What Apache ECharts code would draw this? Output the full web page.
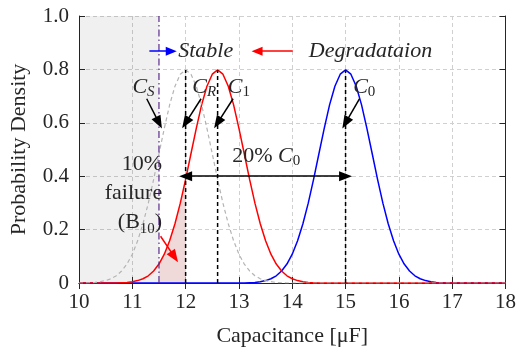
<!DOCTYPE html>
<html>
<head>
<meta charset="utf-8">
<script src="https://cdn.jsdelivr.net/npm/echarts@6/dist/echarts.min.js"></script>
<style>
html,body{margin:0;padding:0;background:#fff;}
#chart{width:519px;height:352px;}
</style>
</head>
<body>
<div id="chart"></div>
<script>
// ---- data ----
const xTicks = [10, 11, 12, 13, 14, 15, 16, 17, 18];
const yTicks = [0, 0.2, 0.4, 0.6, 0.8, 1.0];

// gray dashed curve (centred at C_R)
const grayCurve = [[10.0,0.000],[10.1,0.000],[10.2,0.001],[10.3,0.002],[10.4,0.005],[10.5,0.009],[10.6,0.016],[10.7,0.027],[10.8,0.045],[10.9,0.071],[11.0,0.108],[11.1,0.158],[11.2,0.222],[11.3,0.299],[11.4,0.388],[11.5,0.484],[11.6,0.579],[11.7,0.667],[11.8,0.737],[11.9,0.782],[12.0,0.798],[12.1,0.782],[12.2,0.737],[12.3,0.667],[12.4,0.579],[12.5,0.484],[12.6,0.388],[12.7,0.299],[12.8,0.222],[12.9,0.158],[13.0,0.108],[13.1,0.071],[13.2,0.045],[13.3,0.027],[13.4,0.016],[13.5,0.009],[13.6,0.005],[13.7,0.002],[13.8,0.001],[13.9,0.000],[14.0,0.000],[18.0,0.000]];

// red curve (centred at C_1)
const redCurve = [[10.0,0.000],[10.6,0.000],[10.7,0.000],[10.8,0.001],[10.9,0.002],[11.0,0.005],[11.1,0.009],[11.2,0.016],[11.3,0.027],[11.4,0.045],[11.5,0.071],[11.6,0.108],[11.7,0.158],[11.8,0.222],[11.9,0.299],[12.0,0.388],[12.1,0.484],[12.2,0.579],[12.3,0.667],[12.4,0.737],[12.5,0.782],[12.6,0.798],[12.7,0.782],[12.8,0.737],[12.9,0.667],[13.0,0.579],[13.1,0.484],[13.2,0.388],[13.3,0.299],[13.4,0.222],[13.5,0.158],[13.6,0.108],[13.7,0.071],[13.8,0.045],[13.9,0.027],[14.0,0.016],[14.1,0.009],[14.2,0.005],[14.3,0.002],[14.4,0.001],[14.5,0.000],[18.0,0.000]];

// blue curve (centred at C_0)
const blueCurve = [[10.0,0.000],[13.0,0.000],[13.1,0.000],[13.2,0.001],[13.3,0.002],[13.4,0.005],[13.5,0.009],[13.6,0.016],[13.7,0.027],[13.8,0.045],[13.9,0.071],[14.0,0.108],[14.1,0.158],[14.2,0.222],[14.3,0.299],[14.4,0.388],[14.5,0.484],[14.6,0.579],[14.7,0.667],[14.8,0.737],[14.9,0.782],[15.0,0.798],[15.1,0.782],[15.2,0.737],[15.3,0.667],[15.4,0.579],[15.5,0.484],[15.6,0.388],[15.7,0.299],[15.8,0.222],[15.9,0.158],[16.0,0.108],[16.1,0.071],[16.2,0.045],[16.3,0.027],[16.4,0.016],[16.5,0.009],[16.6,0.005],[16.7,0.002],[16.8,0.001],[16.9,0.000],[17.0,0.000],[18.0,0.000]];

const cS = 11.5, cR = 12.0, c1 = 12.6, c0 = 15.0;
const peak = 0.798;
const gapLevel = 0.4;          // 20% C0 arrow level
const markerLevel = 0.6;       // where label arrows point

// ---- chart ----
const FONT = 'Liberation Serif';
const TXT = '#262626';
const rich = {
  c:  {fontFamily: FONT, fontStyle: 'italic', fontSize: 22, color: TXT, lineHeight: 24},
  si: {fontFamily: FONT, fontStyle: 'italic', fontSize: 15, color: TXT, verticalAlign: 'bottom', lineHeight: 12},
  su: {fontFamily: FONT, fontSize: 15, color: TXT, verticalAlign: 'bottom', lineHeight: 12},
  t:  {fontFamily: FONT, fontSize: 22, color: TXT, lineHeight: 24},
  ti: {fontFamily: FONT, fontStyle: 'italic', fontSize: 22, color: TXT, lineHeight: 24}
};

function vline(x, top, color, type, width) {
  return {
    type: 'line', data: [[x, 0], [x, top]], showSymbol: false, symbol: 'none',
    lineStyle: {color: color, type: type, width: width}, z: 4, silent: true
  };
}
function arrowSeries(color, lines, symbols, size) {
  return {
    type: 'line', data: [], silent: true,
    markLine: {
      silent: true, animation: false,
      symbol: symbols, symbolSize: size,
      label: {show: false},
      itemStyle: {color: color},
      lineStyle: {color: color, type: 'solid', width: 1.5, opacity: 1},
      data: lines.map(l => [{coord: l[0]}, {coord: l[1]}])
    },
    z: 6
  };
}
function textItem(x, y, text, pos) {
  return {value: [x, y], label: {show: true, position: pos || 'inside', distance: 0, formatter: text, rich: rich}};
}

const failArea = redCurve.filter(p => p[0] >= cS && p[0] <= cR);

const option = {
  animation: false,
  grid: {left: 77, right: 13, top: 16, bottom: 67, show: false},
  xAxis: [{
    type: 'value', min: 10, max: 18, interval: 1,
    name: 'Capacitance [μF]', nameLocation: 'middle', nameGap: 42,
    nameTextStyle: {fontFamily: FONT, fontSize: 22, color: TXT},
    axisLine: {show: true, lineStyle: {color: '#262626', width: 1}},
    axisTick: {show: true, inside: true, length: 6, lineStyle: {color: '#262626'}},
    axisLabel: {fontFamily: FONT, fontSize: 21, color: TXT, margin: 9},
    splitLine: {show: true, lineStyle: {color: '#d0d0d0', type: [4, 3], width: 1}}
  }, {
    type: 'value', min: 10, max: 18, interval: 1, position: 'top',
    axisLine: {show: true, lineStyle: {color: '#262626', width: 1}},
    axisTick: {show: true, inside: true, length: 6, lineStyle: {color: '#262626'}},
    axisLabel: {show: false}, splitLine: {show: false}
  }],
  yAxis: [{
    type: 'value', min: 0, max: 1, interval: 0.2,
    name: 'Probability Density', nameLocation: 'middle', nameGap: 49,
    nameTextStyle: {fontFamily: FONT, fontSize: 22, color: TXT},
    axisLine: {show: true, lineStyle: {color: '#262626', width: 1}},
    axisTick: {show: true, inside: true, length: 6, lineStyle: {color: '#262626'}},
    axisLabel: {fontFamily: FONT, fontSize: 21, color: TXT, margin: 10,
      formatter: v => (v === 0 ? '0' : v.toFixed(1))},
    splitLine: {show: true, lineStyle: {color: '#d0d0d0', type: [4, 3], width: 1}}
  }, {
    type: 'value', min: 0, max: 1, interval: 0.2, position: 'right',
    axisLine: {show: true, lineStyle: {color: '#262626', width: 1}},
    axisTick: {show: true, inside: true, length: 6, lineStyle: {color: '#262626'}},
    axisLabel: {show: false}, splitLine: {show: false}
  }],
  series: [
    // shaded failure region + pink area
    {
      type: 'line', data: failArea, showSymbol: false, symbol: 'none',
      lineStyle: {width: 0}, areaStyle: {color: '#f0d9d9', opacity: 1}, z: 1,
      markArea: {silent: true, itemStyle: {color: 'rgba(0,0,0,0.06)'},
        data: [[{xAxis: 10}, {xAxis: cS}]]}
    },
    {type: 'line', data: blueCurve, showSymbol: false, symbol: 'none',
      lineStyle: {color: '#0000ff', width: 1.5}, z: 3},
    {type: 'line', data: redCurve, showSymbol: false, symbol: 'none',
      lineStyle: {color: '#ff0000', width: 1.5}, z: 3},
    {type: 'line', data: grayCurve, showSymbol: false, symbol: 'none',
      lineStyle: {color: '#b4b4b4', width: 1.2, type: [4, 3]}, z: 3},
    vline(cS, 1, '#5a2a8c', [7, 3, 1.5, 3], 1.2),
    vline(cR, peak, '#000000', [4, 3], 1.5),
    vline(c1, peak, '#000000', [4, 3], 1.5),
    vline(c0, peak, '#000000', [4, 3], 1.5),
    // label arrows
    arrowSeries('#000000', [
      [[11.27, 0.690], [cS, markerLevel]],
      [[12.29, 0.690], [cR, markerLevel]],
      [[12.89, 0.690], [c1, markerLevel]],
      [[15.26, 0.690], [c0, markerLevel]]
    ], ['none', 'triangle'], [10, 13]),
    arrowSeries('#000000', [[[cR, gapLevel], [c0, gapLevel]]], ['triangle', 'triangle'], [10, 13]),
    arrowSeries('#0000ff', [[[11.32, 0.868], [11.73, 0.868]]], ['none', 'triangle'], [9, 11]),
    arrowSeries('#ff0000', [[[14.01, 0.868], [13.34, 0.868]]], ['none', 'triangle'], [9, 11]),
    arrowSeries('#ff0000', [[[11.53, 0.175], [11.79, 0.098]]], ['none', 'triangle'], [10, 13]),
    // texts
    {
      type: 'scatter', symbolSize: 0, silent: true, z: 7,
      itemStyle: {opacity: 1},
      data: [
        textItem(11.21, 0.733, '{c|C}{si|S}'),
        textItem(12.35, 0.733, '{c|C}{si|R}'),
        textItem(13.0, 0.733, '{c|C}{su|1}'),
        textItem(15.35, 0.733, '{c|C}{su|0}'),
        textItem(13.51, 0.474, '{t|20% }{c|C}{su|0}'),
        textItem(11.86, 0.868, '{ti|Stable}', 'right'),
        textItem(14.31, 0.868, '{ti|Degradataion}', 'right'),
        {value: [11.56, 0.338], label: {show: true, position: 'left', distance: 0, align: 'right',
          formatter: '{t|10%}\n{t|failure}\n{t|(B}{su|10}{t|)}', rich: {
            t: {fontFamily: FONT, fontSize: 22, color: TXT, lineHeight: 29, align: 'right'},
            su: {fontFamily: FONT, fontSize: 15, color: TXT, verticalAlign: 'bottom', lineHeight: 20}
          }}}
      ]
    }
  ]
};
const chart = echarts.init(document.getElementById('chart'), null, {renderer: 'canvas'});
chart.setOption(option);
</script>
</body>
</html>
